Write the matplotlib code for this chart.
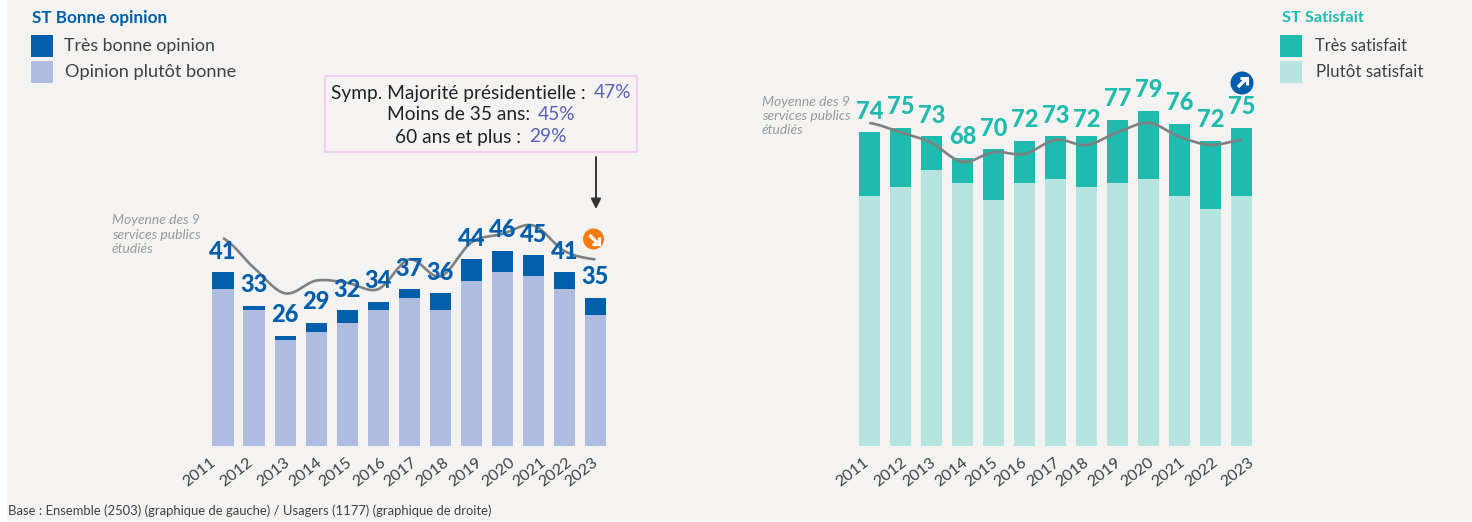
import matplotlib
matplotlib.use("Agg")
import matplotlib.pyplot as plt
from matplotlib.lines import Line2D
from matplotlib.patches import Rectangle, Circle, PathPatch, FancyArrowPatch
from matplotlib.path import Path
from matplotlib.transforms import Affine2D

years = [2011, 2012, 2013, 2014, 2015, 2016, 2017, 2018, 2019, 2020, 2021, 2022, 2023]

# left chart
tres_bonne = [4, 1, 1, 2, 3, 2, 2, 4, 5, 5, 5, 4, 4]
plutot_bonne = [37, 32, 25, 27, 29, 32, 35, 32, 39, 41, 40, 37, 31]
total_bonne = [41, 33, 26, 29, 32, 34, 37, 36, 44, 46, 45, 41, 35]
moyenne_bonne = [49, 42, 36, 39, 38.5, 37, 44, 40, 48, 50, 52, 46, 44]

# right chart
tres_satisfait = [15, 14, 8, 6, 12, 10, 10, 12, 15, 16, 17, 16, 16]
plutot_satisfait = [59, 61, 65, 62, 58, 62, 63, 61, 62, 63, 59, 56, 59]
total_satisfait = [74, 75, 73, 68, 70, 72, 73, 72, 77, 79, 76, 72, 75]
moyenne_satisfait = [76.2, 74, 71.5, 67, 69.3, 68.9, 72.2, 71, 74, 76.2, 72.9, 71, 72.2]

BG = "#F4F3F1"
BLUE = "#005EAB"
LIGHT_BLUE = "#AEBDDF"
TEAL = "#20BBAF"
LIGHT_TEAL = "#B6E5DF"
GREY = "#808080"
TXT = "#404040"

W, H = 1472, 522
plt.rcParams["font.family"] = ["Lato", "DejaVu Sans"]

fig = plt.figure(figsize=(W / 100, H / 100), dpi=100, facecolor="white")
px = Affine2D().scale(1, -1).translate(0, H)  # top-left pixel coords


def put(x, y, s, **kw):
    kw.setdefault("color", TXT)
    kw.setdefault("va", "center")
    return fig.text(x, y, s, transform=px, **kw)


def box(x0, y0, x1, y1, **kw):
    fig.add_artist(Rectangle((x0, y0), x1 - x0, y1 - y0, transform=px, **kw))


def smooth_line(ax, values):
    # same kind of smoothed line as the office chart: bezier through the points
    n = len(values)
    verts = [(0, values[0])]
    codes = [Path.MOVETO]
    for i in range(n - 1):
        prev_v = values[max(i - 1, 0)]
        next_v = values[min(i + 2, n - 1)]
        c1 = (i + 1 / 3, values[i] + (values[i + 1] - prev_v) / 6)
        c2 = (i + 2 / 3, values[i + 1] - (next_v - values[i]) / 6)
        verts += [c1, c2, (i + 1, values[i + 1])]
        codes += [Path.CURVE4] * 3
    ax.add_patch(PathPatch(Path(verts, codes), fc="none", ec=GREY, lw=1.9, zorder=4))


def draw_chart(center0, light, dark, total, moyenne, c_light, c_dark, tick_px):
    pitch = 31.04
    # one extra slot on the left so the 2011 label stays inside the x limits
    ax = fig.add_axes([(center0 - 1.5 * pitch) / W, (H - 446) / H, 14 * pitch / W, 424 / H])
    ax.patch.set_alpha(0)
    x = list(range(13))
    ax.bar(x, light, width=0.68, color=c_light)
    ax.bar(x, dark, width=0.68, bottom=light, color=c_dark)
    smooth_line(ax, moyenne)
    for i, v in enumerate(total):
        ax.annotate(str(v), (i, v), xytext=(0, 15.2), textcoords="offset points",
                    ha="center", va="center", color=c_dark, fontsize=17, fontweight=900, zorder=5)
    ax.set_yticks([])
    ax.set_xticks([(p - center0) / pitch for p in tick_px])
    ax.set_xticklabels(years, rotation=38, ha="center", va="top", fontsize=11.5, color=TXT)
    ax.tick_params(axis="x", length=0, pad=7)
    ax.set_xlim(-1.5, 12.5)
    ax.set_ylim(0, 100)
    for s in ax.spines.values():
        s.set_visible(False)
    return ax


fig.add_artist(Rectangle((7, 0), W - 7, H - 1, transform=px, fc=BG, ec="none", zorder=-5))

draw_chart(223, plutot_bonne, tres_bonne, total_bonne, moyenne_bonne, LIGHT_BLUE, BLUE,
           [199, 236.5, 273.6, 305, 335, 369.5, 400, 432.7, 465, 499, 529, 555.5, 581.6])
draw_chart(869.3, plutot_satisfait, tres_satisfait, total_satisfait, moyenne_satisfait, LIGHT_TEAL, TEAL,
           [852, 890, 919, 951, 981, 1010, 1043, 1072, 1104, 1138, 1168, 1202, 1237])

# titles and legends
put(32, 18, "ST Bonne opinion", color=BLUE, fontsize=12.3, fontweight="bold")
box(31, 35, 53, 57, fc=BLUE, ec="none")
box(31, 61, 53, 83, fc=LIGHT_BLUE, ec="none")
put(64, 46, "Très bonne opinion", fontsize=12.8)
put(65, 72, "Opinion plutôt bonne", fontsize=13.1)

put(1282, 18, "ST Satisfait", color=TEAL, fontsize=11.8, fontweight="bold")
box(1280, 35, 1302, 57, fc=TEAL, ec="none")
box(1280, 61, 1302, 83, fc=LIGHT_TEAL, ec="none")
put(1315, 46, "Très satisfait", fontsize=11.9)
put(1316, 72, "Plutôt satisfait", fontsize=12.2)

# average notes
for y, s in zip([220, 235, 249], ["Moyenne des 9", "services publics", "étudiés"]):
    put(112, y, s, color="#999999", style="italic", fontsize=10)
for y, s in zip([102, 116, 130], ["Moyenne des 9", "services publics", "étudiés"]):
    put(762, y, s, color="#999999", style="italic", fontsize=10)

# callout
box(325, 76, 637, 151.5, fc="none", ec="#F5C4F3", lw=1.2)
callout = [("Symp. Majorité présidentielle : ", "47%", 93),
           ("Moins de 35 ans: ", "45%", 115),
           ("60 ans et plus : ", "29%", 137)]
rend = fig.canvas.get_renderer()
for head, num, y in callout:
    t1 = put(0, y, head, color="#222222", fontsize=13.8)
    t2 = put(0, y, num, color="#5B62B5", fontsize=13.8)
    w1 = t1.get_window_extent(rend).width
    w2 = t2.get_window_extent(rend).width
    x0 = 481 - (w1 + w2 + 3) / 2
    t1.set_position((x0, y))
    t2.set_position((x0 + w1 + 3, y))

fig.add_artist(FancyArrowPatch((596, 157), (596, 209), transform=px, arrowstyle="-|>",
                               mutation_scale=15, color="#333333", lw=1.4, shrinkA=0, shrinkB=0))


def badge(cx, cy, r, color, sx, sy):
    # sx, sy give the direction the arrow points to (pixels, y downward)
    fig.add_artist(Circle((cx, cy), r, transform=px, fc=color, ec="none", zorder=6))
    shaft = Line2D([cx - 4 * sx, cx + 4 * sx], [cy - 4 * sy, cy + 4 * sy], transform=px,
                   color="white", lw=2.4, solid_capstyle="butt", zorder=7)
    head = Line2D([cx + 5 * sx, cx + 5 * sx, cx - 2 * sx],
                  [cy - 2 * sy, cy + 5 * sy, cy + 5 * sy], transform=px,
                  color="white", lw=2.2, solid_joinstyle="miter", solid_capstyle="butt", zorder=7)
    fig.add_artist(shaft)
    fig.add_artist(head)


badge(593.5, 239, 10.5, "#F47B0F", 1, 1)
badge(1242, 83, 11.5, BLUE, 1, -1)

put(8, 511, "Base : Ensemble (2503) (graphique de gauche) / Usagers (1177) (graphique de droite)", fontsize=9.35)

fig.savefig("out.png", dpi=100, facecolor="white")
